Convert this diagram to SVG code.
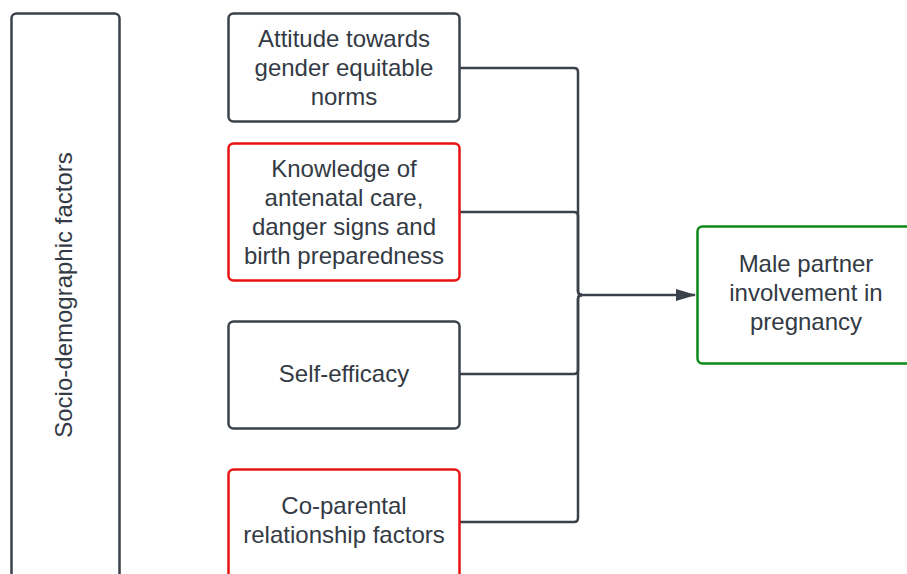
<svg xmlns="http://www.w3.org/2000/svg" width="907" height="574" viewBox="0 0 907 574">
<style>
.box{fill:#ffffff;stroke-width:2.5}
.dark{stroke:#3a414a}
.red{stroke:#e81313}
.green{stroke:#0b8a15}
.t{font-family:"Liberation Sans",Arial,sans-serif;font-size:24px;fill:#333a44;text-anchor:middle}
.c{fill:none;stroke:#3a414a;stroke-width:2.5}
</style>
<defs>
<marker id="ah" viewBox="0 0 20 12" refX="19" refY="6" markerWidth="20" markerHeight="12" markerUnits="userSpaceOnUse" orient="auto">
<path d="M0,0 L20,6 L0,12 Z" fill="#3a414a"/>
</marker>
</defs>
<rect width="907" height="574" fill="#ffffff"/>
<g id="connectors">
<path class="c" d="M460,68 H574 Q578,68 578,72 V291 Q578,295 582,295"/>
<path class="c" d="M460,212 H574 Q578,212 578,216 V291 Q578,295 582,295"/>
<path class="c" d="M460,374 H574 Q578,374 578,370 V299 Q578,295 582,295"/>
<path class="c" d="M460,522 H574 Q578,522 578,518 V299 Q578,295 582,295"/>
<path class="c" d="M580,295 H695" marker-end="url(#ah)"/>
</g>
<g id="socio">
<rect class="box dark" x="11.5" y="13.5" width="108" height="575" rx="5"/>
<text class="t" transform="translate(71.5,295) rotate(-90)">Socio-demographic factors</text>
</g>
<g id="attitude">
<rect class="box dark" x="228.5" y="13.5" width="231" height="108" rx="5"/>
<text class="t" x="344" y="46.5">Attitude towards</text>
<text class="t" x="344" y="75.5">gender equitable</text>
<text class="t" x="344" y="104.5">norms</text>
</g>
<g id="knowledge">
<rect class="box red" x="228.5" y="143.5" width="231" height="137" rx="5"/>
<text class="t" x="344" y="177">Knowledge of</text>
<text class="t" x="344" y="206">antenatal care,</text>
<text class="t" x="344" y="235">danger signs and</text>
<text class="t" x="344" y="264">birth preparedness</text>
</g>
<g id="selfefficacy">
<rect class="box dark" x="228.5" y="321.5" width="231" height="107" rx="5"/>
<text class="t" x="344" y="381.5">Self-efficacy</text>
</g>
<g id="coparental">
<rect class="box red" x="228.5" y="469.5" width="231" height="120" rx="5"/>
<text class="t" x="344" y="513.5">Co-parental</text>
<text class="t" x="344" y="542.5">relationship factors</text>
</g>
<g id="male">
<rect class="box green" x="697.5" y="226.5" width="230" height="137" rx="5"/>
<text class="t" x="806" y="271.5">Male partner</text>
<text class="t" x="806" y="300.5">involvement in</text>
<text class="t" x="806" y="329.5">pregnancy</text>
</g>
</svg>
